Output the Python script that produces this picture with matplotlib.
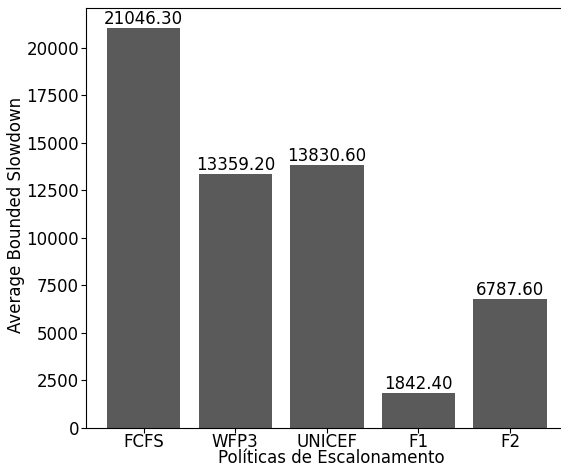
import matplotlib
matplotlib.use("Agg")
import matplotlib.pyplot as plt

# valores do grafico
policies = ["FCFS", "WFP3", "UNICEF", "F1", "F2"]
slowdown = [21046.30, 13359.20, 13830.60, 1842.40, 6787.60]

fig = plt.figure(figsize=(5.61, 4.67), dpi=100)
ax = fig.add_axes([86 / 561, 39 / 467, 490 / 561, 420 / 467])

bars = ax.bar(policies, slowdown, color="#5a5a5a", width=0.8)
ax.set_xlim(-0.63, 4.72)
ax.spines["right"].set_visible(False)

# rotulos em cima das barras
for b, v in zip(bars, slowdown):
    ax.text(b.get_x() + b.get_width() / 2, v, "%.2f" % v,
            ha="center", va="bottom", fontsize=12)

ax.set_ylabel("Average Bounded Slowdown", fontsize=12)
ax.yaxis.set_label_coords(-0.125, 0.507)
ax.set_xlabel("Políticas de Escalonamento", fontsize=12, labelpad=-1)
ax.tick_params(labelsize=12)
ax.tick_params(axis="x", pad=0)
ax.tick_params(axis="y", pad=1.5)

fig.savefig("out.png", dpi=100)
